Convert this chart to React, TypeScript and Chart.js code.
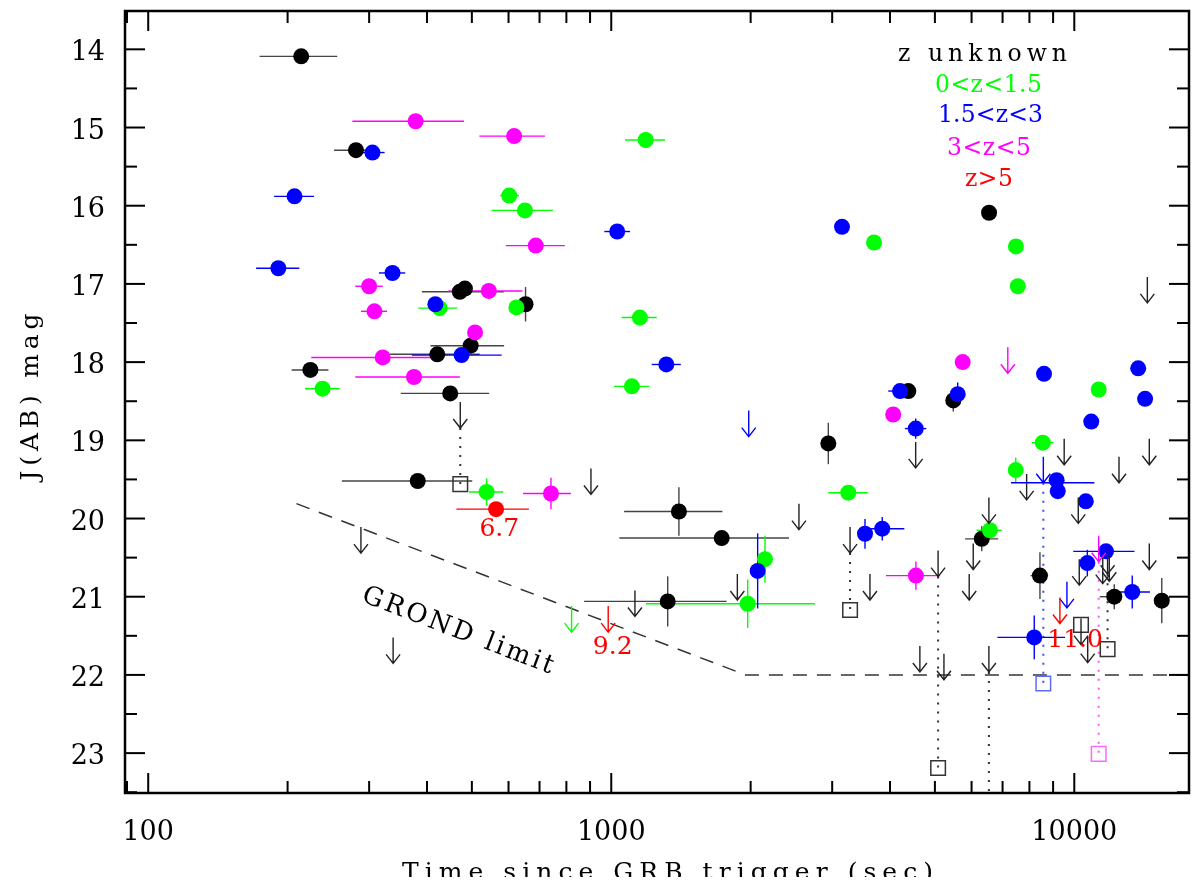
import { useEffect, useRef } from 'react';
import { Chart, registerables } from 'chart.js';

Chart.register(...registerables);

// detections: [time since trigger (s), J(AB) mag, time low, time high, mag error]
// time low = 0 means no horizontal bar
type Det = [number, number, number, number, number];
// upper limits: [time, mag, time low, time high]
type Lim = [number, number, number?, number?];
// open squares: [time, mag, mag of the upper limit it hangs from (or null)]
type Sq = [number, number, number | null];

const zUnknownDet: Det[] = [
  [214, 14.09, 174, 256, 0],
  [281, 15.29, 252, 313, 0],
  [471, 17.1, 390, 586, 0],
  [483, 17.06, 0, 0, 0],
  [653, 17.26, 0, 0, 0.22],
  [497, 17.79, 407, 587, 0],
  [421, 17.9, 333, 520, 0],
  [224, 18.1, 204, 245, 0],
  [449, 18.4, 351, 545, 0],
  [382, 19.52, 262, 501, 0],
  [1400, 19.91, 1066, 1738, 0.31],
  [1732, 20.25, 1041, 2420, 0],
  [1324, 21.06, 874, 1775, 0.32],
  [2943, 19.04, 0, 0, 0.265],
  [6545, 16.09, 0, 0, 0],
  [4381, 18.37, 0, 0, 0],
  [5479, 18.49, 0, 0, 0.14],
  [6312, 20.26, 5810, 6850, 0.16],
  [8430, 20.73, 8050, 8780, 0.3],
  [12200, 21.0, 11350, 12650, 0.16],
  [15450, 21.05, 0, 0, 0.29],
];

const zLowDet: Det[] = [
  [602, 15.87, 575, 632, 0],
  [651, 16.06, 552, 748, 0],
  [624, 17.3, 0, 0, 0],
  [426, 17.31, 383, 465, 0],
  [238, 18.34, 218, 259, 0],
  [538, 19.66, 493, 584, 0.175],
  [1187, 15.16, 1071, 1307, 0],
  [1153, 17.43, 1053, 1254, 0],
  [1108, 18.31, 1014, 1208, 0],
  [3694, 16.47, 0, 0, 0],
  [2148, 20.52, 0, 0, 0.3],
  [1971, 21.09, 1188, 2754, 0.31],
  [3250, 19.67, 2943, 3580, 0],
  [6573, 20.15, 6150, 6970, 0.1],
  [7480, 16.52, 0, 0, 0],
  [7550, 17.03, 0, 0, 0],
  [8550, 19.03, 8090, 9010, 0],
  [7475, 19.38, 0, 0, 0.16],
  [11290, 18.35, 0, 0, 0],
];

const zMidDet: Det[] = [
  [305, 15.32, 284, 324, 0],
  [207, 15.88, 187, 228, 0],
  [191, 16.8, 171, 212, 0],
  [337, 16.86, 315, 359, 0],
  [417, 17.26, 410, 434, 0],
  [475, 17.91, 371, 580, 0],
  [1030, 16.33, 966, 1098, 0],
  [1315, 18.03, 1223, 1413, 0],
  [2071, 20.67, 0, 0, 0.48],
  [3150, 16.27, 0, 0, 0],
  [4204, 18.37, 3965, 4454, 0],
  [5600, 18.41, 0, 0, 0.15],
  [4545, 18.85, 4306, 4791, 0.13],
  [3532, 20.195, 0, 0, 0.19],
  [3848, 20.13, 3600, 4295, 0.15],
  [8603, 18.15, 0, 0, 0],
  [13740, 18.08, 0, 0, 0],
  [14220, 18.47, 0, 0, 0],
  [10880, 18.76, 0, 0, 0],
  [9160, 19.51, 0, 0, 0],
  [9210, 19.65, 0, 0, 0],
  [10590, 19.78, 0, 0, 0],
  [11710, 20.42, 9950, 13490, 0],
  [10670, 20.57, 0, 0, 0.17],
  [8195, 21.52, 6820, 9550, 0.28],
  [13340, 20.94, 12140, 14570, 0.21],
];

const zHighDet: Det[] = [
  [378, 14.92, 276, 481, 0],
  [617, 15.11, 519, 719, 0],
  [687, 16.51, 592, 794, 0],
  [300, 17.03, 280, 321, 0],
  [544, 17.09, 445, 643, 0],
  [308, 17.35, 288, 328, 0],
  [508, 17.62, 0, 0, 0],
  [321, 17.94, 225, 416, 0],
  [375, 18.19, 280, 471, 0],
  [741, 19.68, 645, 818, 0.2],
  [5741, 18.0, 0, 0, 0],
  [4064, 18.67, 0, 0, 0],
  [4550, 20.73, 3920, 5130, 0.18],
];

const zVeryHighDet: Det[] = [[564, 19.88, 463, 664, 0]];

const zUnknownLim: Lim[] = [
  [472, 18.51], [288, 20.11], [338, 21.52], [904, 19.36], [1125, 20.92],
  [1872, 20.71], [2543, 19.81], [3279, 20.11], [3620, 20.71], [4544, 19.02],
  [5080, 20.41], [4640, 21.63], [5230, 21.73], [6050, 20.32], [5930, 20.71],
  [6540, 19.73], [6540, 21.63], [7890, 19.43], [9510, 18.98], [10200, 19.73],
  [12490, 19.21], [14380, 16.91], [14520, 18.98], [14520, 20.32], [10250, 20.52],
  [11520, 20.5], [11800, 20.38], [11900, 20.47], [10340, 21.28], [10690, 21.51],
];
const zLowLim: Lim[] = [[821, 21.12]];
const zMidLim: Lim[] = [[1981, 18.62], [8573, 19.21, 7300, 11050], [9640, 20.81]];
const zHighLim: Lim[] = [[7185, 17.81], [11290, 20.22]];
const zVeryHighLim: Lim[] = [[985, 21.12], [9310, 21.01]];

const zUnknownSq: Sq[] = [
  [472, 19.56, 18.51], [3279, 21.17, 20.11], [5080, 23.19, 20.41],
  [11800, 21.67, 20.38], [10340, 21.36, null], [6540, 23.9, 21.63],
];
const zMidSq: Sq[] = [[8573, 22.11, 19.21]];
const zHighSq: Sq[] = [[11290, 23.01, 20.22]];

// GROND sensitivity limit
const grondT = [209, 1950, 17690];
const grondMag = [19.81, 22.0, 22.0];

// redshift labels next to the z>5 bursts: [time, mag, text]
const zLabels: [number, number, string][] = [
  [573, 20.22, '6.7'],
  [1007, 21.73, '9.2'],
  [10040, 21.64, '11.0'],
];

const groupNames = ['z unknown', '0<z<1.5', '1.5<z<3', '3<z<5', 'z>5'];
const groupColors = ['#000000', '#00ff00', '#0000ff', '#ff00ff', '#ff0000'];
const detections = [zUnknownDet, zLowDet, zMidDet, zHighDet, zVeryHighDet];
const limits = [zUnknownLim, zLowLim, zMidLim, zHighLim, zVeryHighLim];
const squares: Sq[][] = [zUnknownSq, [], zMidSq, zHighSq, []];

const xTickLabels = [100, 1000, 10000];
const yTickLabels = [14, 15, 16, 17, 18, 19, 20, 21, 22, 23];

const SERIF = '"DejaVu Serif", serif';
const ARROW = 26;
const barColors = ['#444444', '#00ff00', '#0000ff', '#ff00ff', '#ff0000'];
const sqColors = ['#333333', '#00ff00', '#5a6cff', '#ff66ff', '#ff0000'];
const linkColors = ['#333333', '#00ff00', '#3a4cff', '#ff55ff', '#ff0000'];

type TextOpts = {
  size: number;
  color: string;
  width?: number;
  align?: 'left' | 'center' | 'right';
  angle?: number;
  baseline?: CanvasTextBaseline;
};

function drawText(ctx: CanvasRenderingContext2D, text: string, x: number, y: number, o: TextOpts) {
  ctx.save();
  ctx.font = `${o.size}px ${SERIF}`;
  ctx.fillStyle = o.color;
  ctx.textBaseline = o.baseline ?? 'alphabetic';
  ctx.textAlign = 'left';
  let w = ctx.measureText(text).width;
  const n = Array.from(text).length;
  if (o.width && n > 1) {
    (ctx as any).letterSpacing = `${(o.width - w) / (n - 1)}px`;
    w = o.width;
  }
  ctx.translate(x, y);
  if (o.angle) ctx.rotate(o.angle);
  const align = o.align ?? 'center';
  const x0 = align === 'center' ? -w / 2 : align === 'right' ? -w : 0;
  ctx.fillText(text, x0, 0);
  ctx.restore();
}

function line(ctx: CanvasRenderingContext2D, x1: number, y1: number, x2: number, y2: number) {
  ctx.beginPath();
  ctx.moveTo(x1, y1);
  ctx.lineTo(x2, y2);
  ctx.stroke();
}

const decor = {
  id: 'decor',
  beforeDatasetsDraw(chart: any) {
    const { ctx, chartArea: a } = chart;
    const xs = chart.scales.x;
    const ys = chart.scales.y;
    ctx.save();
    ctx.beginPath();
    ctx.rect(a.left, a.top, a.right - a.left, a.bottom - a.top);
    ctx.clip();

    // dotted lines from a limit down to its square
    ctx.lineWidth = 2;
    ctx.setLineDash([2, 7]);
    squares.forEach((list, g) => {
      ctx.strokeStyle = linkColors[g];
      list.forEach(([t, m, from]) => {
        if (from === null) return;
        const X = xs.getPixelForValue(t);
        line(ctx, X, ys.getPixelForValue(from) + ARROW, X, ys.getPixelForValue(m));
      });
    });
    ctx.setLineDash([]);

    // error bars
    ctx.lineWidth = 1.4;
    detections.forEach((list, g) => {
      ctx.strokeStyle = barColors[g];
      list.forEach(([t, m, lo, hi, dm]) => {
        const X = xs.getPixelForValue(t);
        const Y = ys.getPixelForValue(m);
        if (lo > 0) line(ctx, xs.getPixelForValue(lo), Y, xs.getPixelForValue(hi), Y);
        if (dm > 0) line(ctx, X, ys.getPixelForValue(m - dm), X, ys.getPixelForValue(m + dm));
      });
    });
    ctx.restore();
  },
  afterDatasetsDraw(chart: any) {
    const { ctx, chartArea: a } = chart;
    const xs = chart.scales.x;
    const ys = chart.scales.y;
    ctx.save();

    // upper limit arrows
    ctx.lineWidth = 1.4;
    limits.forEach((list, g) => {
      ctx.strokeStyle = g === 0 ? '#222222' : groupColors[g];
      list.forEach(([t, m, lo, hi]) => {
        const X = xs.getPixelForValue(t);
        const Y = ys.getPixelForValue(m);
        const tip = Y + ARROW;
        ctx.beginPath();
        ctx.moveTo(X, Y);
        ctx.lineTo(X, tip);
        ctx.moveTo(X - 7, tip - 9);
        ctx.lineTo(X, tip);
        ctx.lineTo(X + 7, tip - 9);
        ctx.stroke();
        if (lo && hi) line(ctx, xs.getPixelForValue(lo), tip, xs.getPixelForValue(hi), tip);
      });
    });

    // frame and inward ticks
    ctx.strokeStyle = '#000';
    ctx.lineWidth = 2.5;
    ctx.strokeRect(a.left, a.top, a.right - a.left, a.bottom - a.top);
    ctx.lineWidth = 2;
    for (let m = 14; m <= 23.5; m += 0.5) {
      const Y = ys.getPixelForValue(m);
      const len = m % 1 === 0 ? 20 : 12;
      line(ctx, a.left, Y, a.left + len, Y);
      line(ctx, a.right, Y, a.right - len, Y);
    }
    for (const dec of [10, 100, 1000, 10000]) {
      for (let k = 1; k < 10; k++) {
        const v = k * dec;
        if (v < xs.min || v > xs.max) continue;
        const X = xs.getPixelForValue(v);
        const len = k === 1 ? 20 : 12;
        line(ctx, X, a.bottom, X, a.bottom - len);
        line(ctx, X, a.top, X, a.top + len);
      }
    }

    // tick labels
    xTickLabels.forEach((v) => {
      drawText(ctx, String(v), xs.getPixelForValue(v), a.bottom + 47, { size: 27, color: '#000' });
    });
    yTickLabels.forEach((v) => {
      drawText(ctx, String(v), a.left - 20, ys.getPixelForValue(v) + 11, { size: 27, color: '#000', align: 'right' });
    });

    // axis titles
    drawText(ctx, 'Time since GRB trigger (sec)', 659.5, 872, { size: 25, color: '#000', width: 531 });
    drawText(ctx, 'J(AB) mag', 30, 389, { size: 25, color: '#000', width: 167, angle: -Math.PI / 2 });

    // redshift legend
    const legendPos = [
      [974.5, 53, 169],
      [980.5, 84, 107],
      [982.5, 114, 105],
      [981, 147, 84],
      [981, 178, 48],
    ];
    groupNames.forEach((name, g) => {
      const [x, y, w] = legendPos[g];
      drawText(ctx, name, x, y, { size: 23.5, color: groupColors[g], width: w });
    });

    // redshift values of the z>5 bursts
    zLabels.forEach(([t, m, txt]) => {
      drawText(ctx, txt, xs.getPixelForValue(t), ys.getPixelForValue(m), { size: 25, color: '#ff0000' });
    });

    // GROND limit label
    drawText(ctx, 'GROND limit', xs.getPixelForValue(466), ys.getPixelForValue(21.44), {
      size: 26,
      color: '#000',
      width: 203,
      angle: Math.atan2(73, 190),
      baseline: 'middle',
    });

    ctx.restore();
  },
};

export default function App() {
  const chartRef = useRef<HTMLCanvasElement>(null);
  const chartInstance = useRef<Chart | null>(null);

  useEffect(() => {
    if (!chartRef.current) return;
    if (chartInstance.current) chartInstance.current.destroy();

    const datasets: any[] = [
      {
        label: 'GROND limit',
        data: grondT.map((t, i) => ({ x: t, y: grondMag[i] })),
        showLine: true,
        borderColor: '#333333',
        borderWidth: 1.5,
        borderDash: [14, 10],
        pointRadius: 0,
        order: 7,
      },
      ...squares.map((list, g) => ({
        label: `${groupNames[g]} squares`,
        data: list.map(([t, m]) => ({ x: t, y: m })),
        pointStyle: 'rect',
        pointRadius: 10.3,
        borderColor: sqColors[g],
        borderWidth: 1.5,
        backgroundColor: 'rgba(0,0,0,0)',
        order: 6,
      })),
      ...detections.map((list, g) => ({
        label: groupNames[g],
        data: list.map(([t, m]) => ({ x: t, y: m })),
        pointStyle: 'circle',
        pointRadius: 8,
        borderWidth: 0,
        backgroundColor: groupColors[g],
        order: 4 - g,
      })),
    ];

    chartInstance.current = new Chart(chartRef.current, {
      type: 'scatter',
      data: { datasets },
      options: {
        responsive: true,
        maintainAspectRatio: false,
        animation: false,
        events: [],
        layout: { autoPadding: false, padding: { left: 117, right: 3, top: 3, bottom: 92 } },
        plugins: { legend: { display: false }, tooltip: { enabled: false } },
        scales: {
          x: { type: 'logarithmic', display: false, min: 89.1, max: 17690 },
          y: { type: 'linear', display: false, reverse: true, min: 13.51, max: 23.51 },
        },
      },
      plugins: [decor],
    });

    return () => {
      if (chartInstance.current) {
        chartInstance.current.destroy();
        chartInstance.current = null;
      }
    };
  }, []);

  return (
    <div style={{ position: 'relative', width: 1184, height: 877, marginBottom: -8 }}>
      <canvas ref={chartRef} style={{ display: 'block' }} />
    </div>
  );
}
